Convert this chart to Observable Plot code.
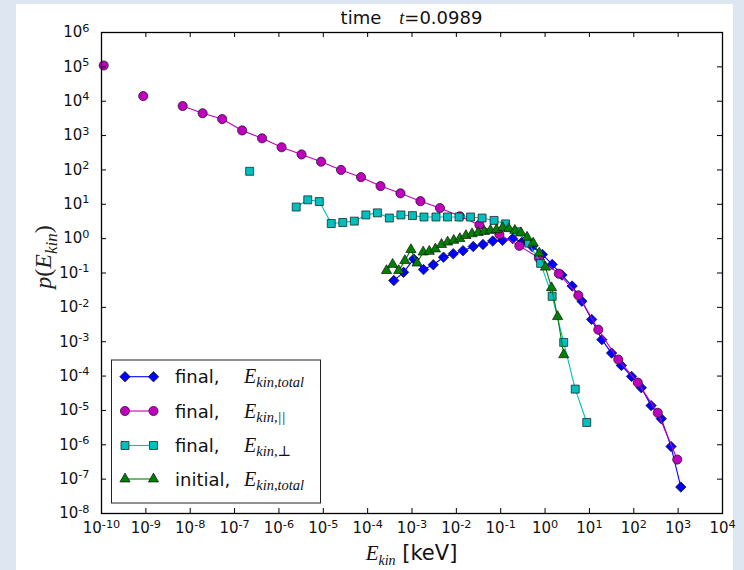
<!DOCTYPE html>
<html><head><meta charset="utf-8">
<script src="https://cdn.jsdelivr.net/npm/d3@7"></script>
<script src="https://cdn.jsdelivr.net/npm/@observablehq/plot@0.6"></script>
<style>
html,body{margin:0;padding:0;}
body{width:744px;height:570px;background:#dde6f1;position:relative;overflow:hidden;}
#panel{position:absolute;left:16px;top:4px;width:717px;height:566px;background:#fff;}
#chart{position:absolute;left:0;top:0;}
</style></head><body><div id="panel"></div><div id="chart"></div>
<script>
// ---- data (log10 values) ----
const xTickExps = [-10,-9,-8,-7,-6,-5,-4,-3,-2,-1,0,1,2,3,4];
const yTickExps = [-8,-7,-6,-5,-4,-3,-2,-1,0,1,2,3,4,5,6];

const totalLogE = [-3.41,-3.19,-2.96,-2.74,-2.52,-2.29,-2.07,-1.85,-1.62,-1.40,-1.18,-0.96,-0.73,-0.51,-0.29,-0.06,0.16,0.38,0.61,0.83,1.05,1.28,1.50,1.72,1.95,2.17,2.39,2.62,2.84,3.06];
const totalLogP = [-1.22,-0.98,-0.59,-0.90,-0.76,-0.54,-0.44,-0.35,-0.23,-0.17,-0.07,-0.05,0.00,-0.09,-0.23,-0.46,-0.75,-1.06,-1.38,-1.82,-2.35,-2.94,-3.33,-3.69,-4.01,-4.34,-4.86,-5.24,-6.05,-7.23];

const parallelLogE = [-9.95,-9.50,-9.06,-8.61,-8.17,-7.72,-7.28,-6.83,-6.38,-5.94,-5.49,-5.05,-4.60,-4.15,-3.71,-3.26,-2.81,-2.37,-1.92,-1.48,-1.03,-0.58,-0.14,0.31,0.75,1.20,1.65,2.09,2.54,2.98];
const parallelLogP = [5.04,null,4.15,null,3.86,3.65,3.48,3.15,2.92,2.66,2.45,2.24,2.00,1.79,1.53,1.32,1.09,0.89,0.65,0.40,0.12,-0.21,-0.56,-1.02,-1.65,-2.65,-3.52,-4.19,-5.07,-6.43];

const perpLogE = [-6.66,-6.40,-6.14,-5.87,-5.61,-5.35,-5.09,-4.82,-4.56,-4.30,-4.04,-3.78,-3.51,-3.25,-2.99,-2.73,-2.46,-2.20,-1.94,-1.68,-1.42,-1.15,-0.89,-0.63,-0.37,-0.10,0.16,0.42,0.68,0.94];
const perpLogP = [1.96,null,null,null,0.92,1.13,1.08,0.44,0.47,0.51,0.69,0.75,0.60,0.69,0.67,0.63,0.63,0.63,0.63,0.63,0.60,0.53,0.43,0.20,-0.13,-0.72,-1.68,-3.02,-4.38,-5.35];

const initialLogE = [-3.575,-3.437,-3.299,-3.161,-3.024,-2.886,-2.748,-2.610,-2.473,-2.335,-2.197,-2.059,-1.921,-1.784,-1.646,-1.508,-1.370,-1.232,-1.095,-0.957,-0.819,-0.681,-0.543,-0.406,-0.268,-0.130,0.008,0.146,0.283,0.421];
const initialLogP = [-0.93,-0.75,-0.93,-0.64,-0.32,-0.71,-0.39,-0.37,-0.30,-0.17,-0.10,-0.05,0.00,0.09,0.14,0.18,0.21,0.24,0.26,0.32,0.29,0.24,0.17,0.04,-0.13,-0.42,-0.83,-1.43,-2.27,-3.38];

const seriesLabels = ["final,", "final,", "final,", "initial,"];
const seriesSubs = ["kin,total", "kin,||", "kin,\u22A5", "kin,total"];
const seriesColors = ["#0000ff", "#bf00bf", "#00bfbf", "#008000"];
const seriesSymbols = ["diamond2", "circle", "square", "triangle"];
const seriesR = [4.7, 4.6, 4.5, 3.8];

// ---- build ----
const W = 744, H = 570, mL = 101, mR = 22, mT = 32, mB = 57;
const plotW = W - mL - mR, plotH = H - mT - mB;
const rows = (xs, ys) => xs.map((e, i) => ({E: 10 ** e, P: ys[i] == null ? NaN : 10 ** ys[i]}));
const series = [rows(totalLogE, totalLogP), rows(parallelLogE, parallelLogP), rows(perpLogE, perpLogP), rows(initialLogE, initialLogP)];
const xTicks = xTickExps.map(e => 10 ** e);
const yTicks = yTickExps.map(e => 10 ** e);
const fmt = d => "10^" + Math.round(Math.log10(d));

const marks = [];
series.forEach((data, i) => {
  marks.push(Plot.line(data, {x: "E", y: "P", stroke: seriesColors[i], strokeWidth: 1.1}));
  marks.push(Plot.dot(data, {x: "E", y: "P", symbol: () => seriesSymbols[i], r: seriesR[i], fill: seriesColors[i], stroke: "#111", strokeWidth: 0.7}));
});

const chart = Plot.plot({
  width: W, height: H, marginLeft: mL, marginRight: mR, marginTop: mT, marginBottom: mB,
  style: {background: "transparent", fontFamily: "DejaVu Sans, sans-serif", color: "#111"},
  x: {type: "log", domain: [1e-10, 1e4]},
  y: {type: "log", domain: [1e-8, 1e6]},
  marks: [
    ...marks,
    Plot.tickX(xTicks, {x: d => d, insetTop: plotH - 5, stroke: "#000"}),
    Plot.tickX(xTicks, {x: d => d, insetBottom: plotH - 5, stroke: "#000"}),
    Plot.tickY(yTicks, {y: d => d, insetRight: plotW - 5, stroke: "#000"}),
    Plot.tickY(yTicks, {y: d => d, insetLeft: plotW - 5, stroke: "#000"}),
    Plot.axisX(xTicks, {tickSize: 0, tickPadding: 9, tickFormat: fmt, fontSize: 15, label: null}),
    Plot.axisY(yTicks, {tickSize: 0, tickPadding: 12, tickFormat: fmt, fontSize: 15, label: null}),
    Plot.frame({stroke: "#000", strokeWidth: 1.3})
  ]
});
document.getElementById("chart").appendChild(chart);

const svg = d3.select(chart);
// superscript tick labels
svg.selectAll("g[aria-label$='tick label'] text").each(function () {
  const t = d3.select(this);
  const s = t.text();
  if (!s.startsWith("10^")) return;
  const e = s.slice(3);
  t.text(null);
  t.append("tspan").text("10");
  t.append("tspan").attr("dy", "-0.5em").attr("font-size", "0.75em").text(e);
});

const serif = "Liberation Serif, DejaVu Serif, serif";
const sans = "DejaVu Sans, sans-serif";
// title
const title = svg.append("text").attr("x", mL + plotW / 2).attr("y", 24).attr("text-anchor", "middle")
  .attr("font-size", 18).attr("font-family", sans).attr("fill", "#111");
title.append("tspan").text("time\u2003");
title.append("tspan").attr("font-family", serif).attr("font-style", "italic").text("t");
title.append("tspan").text("=0.0989");

// x label
const xl = svg.append("text").attr("x", mL + plotW / 2).attr("y", 560).attr("text-anchor", "middle")
  .attr("font-size", 21).attr("fill", "#111");
xl.append("tspan").attr("font-family", serif).attr("font-style", "italic").text("E");
xl.append("tspan").attr("font-family", serif).attr("font-style", "italic").attr("font-size", 14).attr("dy", 5).text("kin");
xl.append("tspan").attr("font-family", sans).attr("dy", -5).text(" [keV]");

// y label
const yl = svg.append("text").attr("transform", `translate(51,257) rotate(-90)`).attr("text-anchor", "middle")
  .attr("font-size", 24).attr("font-family", serif).attr("font-style", "italic").attr("fill", "#222");
yl.append("tspan").text("p");
yl.append("tspan").attr("font-style", "normal").text("(");
yl.append("tspan").text("E");
yl.append("tspan").attr("font-size", 17).attr("dy", 6).text("kin");
yl.append("tspan").attr("font-style", "normal").attr("dy", -6).text(")");

// legend
const lg = svg.append("g").attr("text-anchor", "start");
lg.append("rect").attr("x", 111.5).attr("y", 360).attr("width", 209).attr("height", 143)
  .attr("fill", "#fff").attr("stroke", "#222").attr("stroke-width", 1);
const rowY = [376.7, 411, 445.5, 479];
const symMap = {diamond2: d3.symbolDiamond2, circle: d3.symbolCircle, square: d3.symbolSquare, triangle: d3.symbolTriangle};
seriesLabels.forEach((lab, i) => {
  const y = rowY[i];
  lg.append("line").attr("x1", 125).attr("x2", 153.5).attr("y1", y).attr("y2", y)
    .attr("stroke", seriesColors[i]).attr("stroke-width", 1.1);
  [125, 153.5].forEach(x => {
    lg.append("path").attr("d", d3.symbol(symMap[seriesSymbols[i]], Math.PI * seriesR[i] ** 2)())
      .attr("transform", `translate(${x},${y})`).attr("fill", seriesColors[i]).attr("stroke", "#111").attr("stroke-width", 0.7);
  });
  lg.append("text").attr("x", 175).attr("y", y + 6.5).attr("text-anchor", "start").attr("font-size", 18).attr("font-family", sans).attr("fill", "#111").text(lab);
  const m = lg.append("text").attr("x", 244).attr("y", y + 6.5).attr("text-anchor", "start").attr("font-family", serif).attr("font-style", "italic").attr("fill", "#111");
  m.append("tspan").attr("font-size", 20).text("E");
  m.append("tspan").attr("font-size", 14.5).attr("dy", 4).text(seriesSubs[i]);
});
</script></body></html>
